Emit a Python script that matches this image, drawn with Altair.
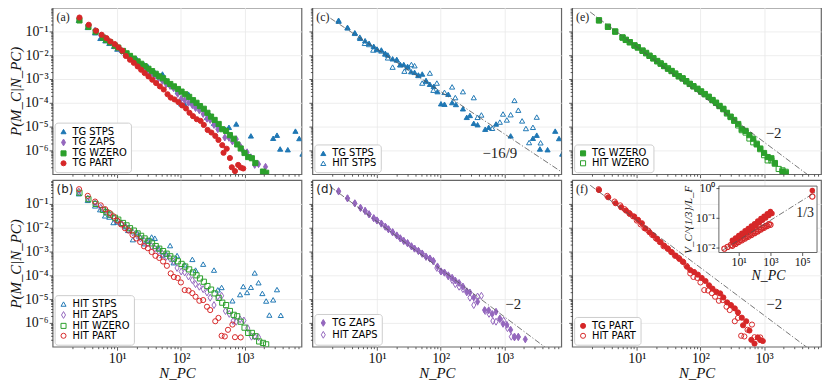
import altair as alt
import numpy as np
import pandas as pd

# ---------------- data (log10 N_PC , log10 P) ----------------
TG_STPS_LOGN = [0.396, 0.536, 0.651, 0.734, 0.8125, 0.875, 0.948, 1.0, 1.068, 1.13, 1.17, 1.245, 1.31, 1.365,
                1.42, 1.48, 1.536, 1.59, 1.65, 1.71, 1.77, 1.83, 1.89, 1.95, 2.005, 2.06, 2.12, 2.18, 2.24, 2.35,
                2.41, 2.46, 2.52, 2.58, 2.70, 2.755, 2.87, 3.10, 3.45, 3.51, 3.56, 3.68, 3.80, 3.86, 3.91]
TG_STPS_LOGP = [-0.53, -0.83, -1.056, -1.29, -1.39, -1.5, -1.625, -1.74, -1.78, -1.92, -1.99, -2.15, -2.18, -2.39,
                -2.39, -2.47, -2.69, -2.72, -2.83, -2.79, -3.06, -3.22, -3.31, -3.53, -4.04, -4.06, -3.64, -3.99,
                -4.07, -4.25, -4.61, -4.53, -4.86, -4.92, -5.11, -5.03, -4.89, -5.39, -5.49, -5.36, -5.94, -5.97,
                -5.19, -5.5, -6.15]

HIT_STPS_LOGN = [0.396, 0.536, 0.651, 0.73, 0.807, 0.875, 0.94, 1.0, 1.068, 1.13, 1.17, 1.245, 1.31, 1.365, 1.43,
                 1.48, 1.54, 1.59, 1.65, 1.71, 1.77, 1.83, 1.885, 1.94, 2.06, 2.18, 2.23, 2.35, 2.52, 2.58, 2.64,
                 2.81, 2.93, 2.98, 3.04, 3.10, 3.16, 3.22, 3.28, 3.34, 3.39, 3.45, 3.51, 3.57]
HIT_STPS_LOGP = [-0.57, -0.85, -1.08, -1.24, -1.5, -1.55, -1.78, -1.76, -1.82, -1.95, -2.11, -2.5, -2.2, -2.4,
                 -2.67, -2.52, -2.39, -2.44, -2.85, -3.17, -3.1, -2.75, -3.47, -3.17, -3.56, -3.33, -3.78, -3.53,
                 -3.78, -4.61, -4.51, -5.07, -4.81, -4.47, -4.72, -4.5, -3.9, -4.31, -4.76, -5.08, -5.67, -5.03,
                 -4.6, -5.68]

TG_ZAPS_LOGN = [0.396, 0.536, 0.651, 0.74, 0.8125, 0.875, 0.948, 1.0, 1.068, 1.13, 1.18, 1.245, 1.31, 1.365, 1.42,
                1.48, 1.54, 1.59, 1.65, 1.71, 1.77, 1.83, 1.885, 1.95, 2.005, 2.06, 2.12, 2.18, 2.23, 2.29, 2.35,
                2.41, 2.46, 2.52, 2.58, 2.69, 2.755, 2.81, 2.87, 2.93, 2.98, 3.04, 3.10, 3.16, 3.22, 3.33]
TG_ZAPS_LOGP = [-0.46, -0.76, -0.97, -1.17, -1.29, -1.43, -1.6, -1.69, -1.82, -1.96, -2.06, -2.18, -2.33, -2.44,
                -2.56, -2.64, -2.78, -2.875, -2.97, -3.08, -3.22, -3.29, -3.39, -3.625, -3.83, -3.89, -4.0, -4.1,
                -4.22, -4.32, -4.47, -4.67, -4.72, -4.93, -5.11, -5.46, -5.47, -5.625, -5.53, -5.81, -6.04, -6.08,
                -6.29, -6.61, -6.58, -6.69]

HIT_ZAPS_LOGN = [0.396, 0.536, 0.651, 0.74, 0.8125, 0.875, 0.948, 1.0, 1.068, 1.13, 1.18, 1.245, 1.31, 1.365,
                 1.42, 1.48, 1.54, 1.59, 1.65, 1.71, 1.77, 1.83, 1.885, 1.94, 2.005, 2.06, 2.12, 2.18, 2.23, 2.29,
                 2.35, 2.41, 2.46, 2.52, 2.58, 2.64, 2.70, 2.76, 2.82, 2.87, 2.93, 2.99, 3.05, 3.11, 3.16, 3.22]
HIT_ZAPS_LOGP = [-0.48, -0.77, -0.98, -1.16, -1.3, -1.44, -1.6, -1.7, -1.83, -1.95, -2.07, -2.2, -2.32, -2.45,
                 -2.55, -2.66, -2.78, -2.88, -2.98, -3.1, -3.22, -3.3, -3.42, -3.69, -3.84, -3.88, -4.05, -4.2,
                 -4.37, -4.48, -4.58, -4.72, -4.94, -5.25, -4.89, -4.86, -5.5, -5.62, -5.92, -5.95, -5.85, -5.9,
                 -6.22, -6.58, -6.57, -6.6]

TG_WZERO_LOGN = [0.406, 0.547, 0.66, 0.776, 0.828, 0.89, 0.964, 1.016, 1.09, 1.146, 1.2, 1.26, 1.32, 1.375, 1.43,
                 1.49, 1.547, 1.604, 1.66, 1.72, 1.776, 1.833, 1.89, 1.953, 2.01, 2.068, 2.13, 2.19, 2.245, 2.30,
                 2.36, 2.417, 2.474, 2.53, 2.594, 2.65, 2.71, 2.77, 2.83, 2.885, 2.94, 3.0, 3.057, 3.115, 3.17,
                 3.29, 3.34]
TG_WZERO_LOGP = [-0.54, -0.81, -1.01, -1.26, -1.36, -1.46, -1.6, -1.68, -1.82, -1.92, -2.03, -2.14, -2.26, -2.36,
                 -2.46, -2.57, -2.67, -2.78, -2.89, -2.97, -3.1, -3.21, -3.31, -3.42, -3.53, -3.64, -3.75, -3.89,
                 -4.0, -4.14, -4.25, -4.42, -4.58, -4.72, -4.89, -5.11, -5.18, -5.36, -5.51, -5.75, -5.92, -6.11,
                 -6.28, -6.33, -6.53, -6.89, -6.94]

HIT_WZERO_LOGN = [0.406, 0.547, 0.66, 0.776, 0.828, 0.89, 0.964, 1.016, 1.09, 1.146, 1.2, 1.26, 1.32, 1.375, 1.43,
                  1.49, 1.547, 1.604, 1.66, 1.72, 1.776, 1.833, 1.89, 1.953, 2.01, 2.068, 2.13, 2.19, 2.245, 2.30,
                  2.36, 2.417, 2.474, 2.53, 2.594, 2.65, 2.71, 2.77, 2.83, 2.885, 2.94, 3.0, 3.057, 3.115, 3.17,
                  3.23, 3.29, 3.34]
HIT_WZERO_LOGP = [-0.53, -0.8, -1.0, -1.25, -1.35, -1.45, -1.58, -1.66, -1.8, -1.9, -2.02, -2.12, -2.24, -2.34,
                  -2.45, -2.55, -2.66, -2.77, -2.88, -2.98, -3.09, -3.2, -3.3, -3.41, -3.52, -3.63, -3.75, -3.88,
                  -4.0, -4.13, -4.27, -4.45, -4.6, -4.76, -4.95, -5.15, -5.25, -5.5, -5.66, -5.72, -5.95, -6.2,
                  -6.42, -6.42, -6.56, -6.78, -6.84, -6.9]

TG_PART_LOGN = [0.406, 0.552, 0.667, 0.755, 0.83, 0.89, 0.96, 1.02, 1.08, 1.135, 1.2, 1.26, 1.32, 1.375, 1.43,
                1.49, 1.55, 1.61, 1.67, 1.73, 1.79, 1.84, 1.90, 1.96, 2.02, 2.08, 2.135, 2.19, 2.25, 2.31, 2.36,
                2.42, 2.48, 2.54, 2.59, 2.65, 2.67, 2.72, 2.77, 2.80, 2.85, 2.90, 2.94, 2.98]
TG_PART_LOGP = [-0.417, -0.72, -0.97, -1.14, -1.28, -1.42, -1.53, -1.67, -1.81, -2.03, -2.19, -2.32, -2.47,
                -2.61, -2.75, -2.89, -3.03, -3.17, -3.31, -3.44, -3.64, -3.78, -3.86, -3.97, -4.11, -4.24, -4.42,
                -4.56, -4.69, -4.76, -4.93, -5.14, -5.25, -5.39, -5.56, -5.78, -6.1, -5.93, -6.32, -6.71, -6.87,
                -6.61, -6.72, -6.76]

HIT_PART_LOGN = [0.40, 0.536, 0.651, 0.74, 0.81, 0.88, 0.94, 1.0, 1.06, 1.12, 1.18, 1.24, 1.30, 1.36, 1.42, 1.48,
                 1.54, 1.60, 1.66, 1.72, 1.78, 1.84, 1.89, 1.95, 2.0, 2.06, 2.12, 2.18, 2.23, 2.29, 2.35, 2.41, 2.46,
                 2.54, 2.59, 2.64, 2.69, 2.74, 2.81, 2.85, 2.94]
HIT_PART_LOGP = [-0.38, -0.66, -0.9, -1.06, -1.22, -1.38, -1.52, -1.7, -1.86, -2.02, -2.12, -2.3, -2.45, -2.6,
                 -2.78, -2.86, -3.02, -3.18, -3.27, -3.42, -3.6, -3.92, -4.07, -4.11, -4.3, -4.62, -4.64, -4.75,
                 -4.9, -5.07, -5.04, -5.32, -5.46, -5.93, -5.79, -6.54, -6.57, -6.29, -6.07, -6.6, -6.61]

# inset of (f): log10 N_PC , log10 (V_C^{1/3}/L_F)
INSET_TG_LOGN = [0.6, 0.8, 1.0, 1.2, 1.4, 1.6, 1.8, 2.0, 2.2, 2.4, 2.6, 2.8, 3.0,
                 0.7, 0.9, 1.1, 1.3, 1.5, 1.7, 1.9, 2.1, 2.3, 2.5, 2.7, 2.9, 3.1, 5.64]
INSET_TG_LOGV = [-1.76, -1.68, -1.60, -1.52, -1.44, -1.36, -1.28, -1.20, -1.11, -1.03, -0.95, -0.87, -0.79,
                 -1.82, -1.74, -1.66, -1.58, -1.50, -1.42, -1.34, -1.26, -1.17, -1.09, -1.01, -0.93, -0.86, -0.09]
INSET_HIT_LOGN = [0.1, 0.3, 0.5, 0.7, 0.9, 1.1, 1.3, 1.5, 1.7, 1.9, 2.1, 2.3, 2.5, 2.7, 2.9,
                  0.6, 0.8, 1.0, 1.2, 1.4, 1.6, 1.8, 2.0, 2.2, 2.4, 2.6, 2.8, 3.0, 5.64]
INSET_HIT_LOGV = [-2.04, -1.98, -1.92, -1.87, -1.81, -1.75, -1.69, -1.63, -1.57, -1.51, -1.46, -1.40, -1.34,
                  -1.28, -1.22, -1.94, -1.88, -1.82, -1.76, -1.70, -1.64, -1.58, -1.52, -1.46, -1.40, -1.34,
                  -1.28, -1.24, -0.29]

# power-law guide lines: (log10 intercept, slope, label, label log10 N, label log10 P)
GUIDE_C = (0.028, -16 / 9, "\u221216/9", 2.93, -6.11)
GUIDE_D = (0.26, -2.0, "\u22122", 3.14, -5.22)
GUIDE_E = (0.35, -2.0, "\u22122", 3.15, -5.28)
GUIDE_F = (0.32, -2.0, "\u22122", 3.16, -5.21)
GUIDE_INSET = (-2.09, 1 / 3, "1/3", 5.19, -0.84)

SERIES = {
    "TG STPS": (TG_STPS_LOGN, TG_STPS_LOGP),
    "HIT STPS": (HIT_STPS_LOGN, HIT_STPS_LOGP),
    "TG ZAPS": (TG_ZAPS_LOGN, TG_ZAPS_LOGP),
    "HIT ZAPS": (HIT_ZAPS_LOGN, HIT_ZAPS_LOGP),
    "TG WZERO": (TG_WZERO_LOGN, TG_WZERO_LOGP),
    "HIT WZERO": (HIT_WZERO_LOGN, HIT_WZERO_LOGP),
    "TG PART": (TG_PART_LOGN, TG_PART_LOGP),
    "HIT PART": (HIT_PART_LOGN, HIT_PART_LOGP),
}

COLORS = {"STPS": "#1f77b4", "ZAPS": "#9467bd", "WZERO": "#2ca02c", "PART": "#d62728"}
THIN_DIAMOND = "M0,-1.35L0.8,0L0,1.35L-0.8,0Z"
SHAPES = {"STPS": "triangle-up", "ZAPS": THIN_DIAMOND, "WZERO": "square", "PART": "circle"}

W, H = 251, 168
XDOM = [0.964, 7850]
YDOM = [1e-7, 1.0]
SERIF = "Liberation Serif"
SANS = "DejaVu Sans"

SUP = "['\u2070','\u00b9','\u00b2','\u00b3','\u2074','\u2075','\u2076','\u2077','\u2078','\u2079']"
EXP = "round(log(datum.value)/LN10)"
LABEL_EXPR = f"'10' + ({EXP} < 0 ? '\u207b' : '') + {SUP}[abs({EXP})]"

MINOR_X = [m * 10 ** k for k in range(0, 4) for m in range(2, 10) if m * 10 ** k < XDOM[1]]
MINOR_Y = [m * 10.0 ** k for k in range(-7, 0) for m in range(2, 10)]


def series_frame(names):
    rows = []
    for nm in names:
        ln, lp = SERIES[nm]
        rows.append(pd.DataFrame({"N": np.power(10.0, ln), "P": np.power(10.0, lp), "series": nm}))
    return pd.concat(rows, ignore_index=True)


def style(nm):
    kind = nm.split()[1]
    col = COLORS[kind]
    filled = nm.startswith("TG")
    return SHAPES[kind], (col if filled else "transparent"), col


def axis_x(show):
    return alt.Axis(values=[10, 100, 1000], labels=show, labelExpr=LABEL_EXPR,
                    title="N_PC" if show else None, grid=True, orient="bottom")


def axis_y(show):
    return alt.Axis(values=[1e-6, 1e-5, 1e-4, 1e-3, 1e-2, 1e-1], labels=show, labelExpr=LABEL_EXPR,
                    title="P(M_C|N_PC)" if show else None, grid=True, orient="left")


def guide_layer(g, xscale, yscale, n0=1.85, n1=1e4):
    a, s, _, _, _ = g
    ln = np.log10([n0, n1])
    df = pd.DataFrame({"N": [n0, n1], "P": np.power(10.0, a + s * ln)})
    return alt.Chart(df).mark_line(color="#555555", strokeWidth=0.8, strokeDash=[6, 2, 1.2, 2],
                                   clip=True).encode(
        x=alt.X("N:Q", scale=xscale), y=alt.Y("P:Q", scale=yscale))


def text_layer(g, xscale, yscale, size=15):
    _, _, txt, lx, ly = g
    df = pd.DataFrame({"N": [10 ** lx], "P": [10 ** ly], "t": [txt]})
    return alt.Chart(df).mark_text(font=SERIF, fontSize=size, color="#222222").encode(
        x=alt.X("N:Q", scale=xscale), y=alt.Y("P:Q", scale=yscale), text="t:N")


def panel(names, label, show_x, show_y, guide=None, label_font=SERIF):
    xs = alt.Scale(type="log", domain=XDOM, nice=False)
    ys = alt.Scale(type="log", domain=YDOM, nice=False)
    df = series_frame(names)
    st = [style(n) for n in names]
    leg = alt.Legend(title=None, orient="bottom-left", offset=2, padding=4, strokeColor="#cccccc",
                     fillColor="white", cornerRadius=3, labelFont=SANS, labelFontSize=10,
                     symbolSize=26, rowPadding=0, symbolStrokeWidth=1, labelOffset=4)
    pts = alt.Chart(df).mark_point(size=27, strokeWidth=1, opacity=1, clip=True).encode(
        x=alt.X("N:Q", scale=xs, axis=axis_x(show_x)),
        y=alt.Y("P:Q", scale=ys, axis=axis_y(show_y)),
        shape=alt.Shape("series:N", scale=alt.Scale(domain=names, range=[s[0] for s in st]), legend=leg),
        fill=alt.Fill("series:N", scale=alt.Scale(domain=names, range=[s[1] for s in st]), legend=leg),
        stroke=alt.Stroke("series:N", scale=alt.Scale(domain=names, range=[s[2] for s in st]), legend=leg),
    )
    lab = alt.Chart(pd.DataFrame({"t": [label]})).mark_text(
        font=label_font, fontSize=12, align="left", baseline="top", color="#222222").encode(
        x=alt.value(4), y=alt.value(4), text="t:N")
    layers = [pts]
    if guide is not None:
        layers += [guide_layer(guide, xs, ys), text_layer(guide, xs, ys)]
    layers += [lab]
    main = alt.layer(*layers)
    minor = alt.Chart(pd.DataFrame({"N": [XDOM[0]], "P": [YDOM[0]]})).mark_point(opacity=0).encode(
        x=alt.X("N:Q", scale=xs, axis=alt.Axis(values=MINOR_X, labels=False, grid=False, tickSize=2,
                                                 title=None, orient="bottom", domain=False)),
        y=alt.Y("P:Q", scale=ys, axis=alt.Axis(values=MINOR_Y, labels=False, grid=False, tickSize=2,
                                                 title=None, orient="left", domain=False)))
    return alt.layer(main, minor).resolve_axis(x="independent", y="independent")


def inset_layers():
    xd = [10 ** -0.25, 10 ** 5.94]
    yd = [10 ** -2.17, 10 ** 0.06]
    ixs = alt.Scale(type="log", domain=xd, range=[148, 247], nice=False)
    iys = alt.Scale(type="log", domain=yd, range=[73, 6], nice=False)
    xa = alt.Axis(values=[10, 1000, 100000], labelExpr=LABEL_EXPR, orient="bottom", offset=-(H - 73),
                  grid=False, domain=False, title="N_PC", labelFontSize=12, titleFontSize=14, zindex=1,
                  labelPadding=1, titlePadding=1, tickSize=3)
    ya = alt.Axis(values=[0.01, 0.1, 1], labelExpr=LABEL_EXPR, orient="left", offset=-148, grid=False,
                  domain=False, title="V_C^{1/3}/L_F", labelFontSize=12, titleFontSize=11, zindex=1,
                  labelPadding=1, titlePadding=2, tickSize=3)
    box = alt.Chart(pd.DataFrame({"x0": [xd[0]], "x1": [xd[1]], "y0": [yd[0]], "y1": [yd[1]]})).mark_rect(
        fill="white", stroke="#666666", strokeWidth=1).encode(
        x=alt.X("x0:Q", scale=ixs, axis=xa), x2="x1:Q",
        y=alt.Y("y0:Q", scale=iys, axis=ya), y2="y1:Q")
    tg = pd.DataFrame({"N": np.power(10.0, INSET_TG_LOGN), "V": np.power(10.0, INSET_TG_LOGV)})
    hit = pd.DataFrame({"N": np.power(10.0, INSET_HIT_LOGN), "V": np.power(10.0, INSET_HIT_LOGV)})
    p_hit = alt.Chart(hit).mark_point(shape="circle", size=28, filled=False, color=COLORS["PART"],
                                      strokeWidth=1.2, opacity=1).encode(
        x=alt.X("N:Q", scale=ixs), y=alt.Y("V:Q", scale=iys))
    p_tg = alt.Chart(tg).mark_point(shape="circle", size=30, filled=True, color=COLORS["PART"],
                                    opacity=1).encode(
        x=alt.X("N:Q", scale=ixs), y=alt.Y("V:Q", scale=iys))
    a, s = GUIDE_INSET[0], GUIDE_INSET[1]
    lg = np.array([-0.02, 5.92])
    gdf = pd.DataFrame({"N": np.power(10.0, lg), "V": np.power(10.0, a + s * lg)})
    gl = alt.Chart(gdf).mark_line(color="#555555", strokeWidth=0.8, strokeDash=[6, 2, 1.2, 2]).encode(
        x=alt.X("N:Q", scale=ixs), y=alt.Y("V:Q", scale=iys))
    tdf = pd.DataFrame({"N": [10 ** GUIDE_INSET[3]], "V": [10 ** GUIDE_INSET[4]], "t": [GUIDE_INSET[2]]})
    tl = alt.Chart(tdf).mark_text(font=SERIF, fontSize=14, color="#222222").encode(
        x=alt.X("N:Q", scale=ixs), y=alt.Y("V:Q", scale=iys), text="t:N")
    return alt.layer(box, p_tg, p_hit, gl, tl)


pa = panel(["TG STPS", "TG ZAPS", "TG WZERO", "TG PART"], "(a)", False, True)
pc = panel(["TG STPS", "HIT STPS"], "(c)", False, False, GUIDE_C)
pe = panel(["TG WZERO", "HIT WZERO"], "(e)", False, False, GUIDE_E)
pb = panel(["HIT STPS", "HIT ZAPS", "HIT WZERO", "HIT PART"], "(b)", True, True, label_font=SANS)
pd_ = panel(["TG ZAPS", "HIT ZAPS"], "(d)", True, False, GUIDE_D, label_font=SANS)
pf_main = panel(["TG PART", "HIT PART"], "(f)", True, False, GUIDE_F)
pf = alt.layer(pf_main, inset_layers()).resolve_scale(x="independent", y="independent")

panels = [p.properties(width=W, height=H) for p in [pa, pc, pe, pb, pd_, pf]]

chart = alt.concat(*panels, columns=3, spacing={"row": 6, "column": 11}, bounds="flush").resolve_scale(
    shape="independent", fill="independent", stroke="independent"
).resolve_legend(shape="independent", fill="independent", stroke="independent").properties(
    padding={"left": 0, "top": -3, "right": 0, "bottom": 0}
).configure_view(stroke="#666666", strokeWidth=1.2).configure_axis(
    labelFont=SERIF, labelFontSize=14, titleFont=SERIF, titleFontSize=15, titleFontStyle="italic",
    titleFontWeight="normal", domain=False, tickColor="#333333", tickSize=3.5, tickWidth=0.8,
    gridColor="#e8e8e8", gridWidth=0.8, labelPadding=1, titlePadding=1, labelColor="#111111",
    titleColor="#111111"
)

chart.save("out.html", embed_options={"renderer": "svg", "actions": False})
